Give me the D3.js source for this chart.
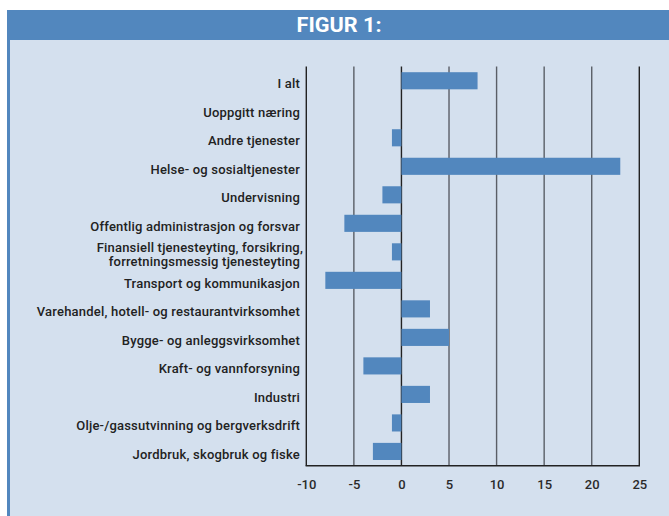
<!DOCTYPE html>
<html><head><meta charset="utf-8">
<script src="https://cdn.jsdelivr.net/npm/d3@7"></script>
<style>
html,body{margin:0;padding:0;background:#fff;}
svg{display:block;}
</style></head>
<body>
<svg id="chart" width="669" height="516"></svg>
<script>
const title = "FIGUR 1:";
const categories = [
  "I alt",
  "Uoppgitt næring",
  "Andre tjenester",
  "Helse- og sosialtjenester",
  "Undervisning",
  "Offentlig administrasjon og forsvar",
  "Finansiell tjenesteyting, forsikring,|forretningsmessig tjenesteyting",
  "Transport og kommunikasjon",
  "Varehandel, hotell- og restaurantvirksomhet",
  "Bygge- og anleggsvirksomhet",
  "Kraft- og vannforsyning",
  "Industri",
  "Olje-/gassutvinning og bergverksdrift",
  "Jordbruk, skogbruk og fiske"
];
const values = [8, 0, -1, 23, -2, -6, -1, -8, 3, 5, -4, 3, -1, -3];
const ticks = [-10, -5, 0, 5, 10, 15, 20, 25];

const svg = d3.select("#chart");
const W = 669, H = 516;
const blue = "#5287be", bg = "#d4e0ee";

// background
svg.append("rect").attr("x", 7).attr("y", 10).attr("width", W - 7).attr("height", H - 10).attr("fill", bg);
svg.append("rect").attr("x", 7).attr("y", 39).attr("width", 3).attr("height", H - 39).attr("fill", blue);
svg.append("rect").attr("x", 7).attr("y", 10).attr("width", W - 7).attr("height", 30).attr("fill", blue);
svg.append("text").attr("x", 339).attr("y", 32).attr("text-anchor", "middle")
  .attr("font-family", "Roboto, sans-serif").attr("font-weight", 700).attr("font-size", 20)
  .attr("fill", "#fff").attr("textLength", 85).attr("lengthAdjust", "spacingAndGlyphs").text(title);

const x = d3.scaleLinear().domain([-10, 25]).range([306.3, 639.3]);
const y = d3.scaleBand().domain(categories).range([66.5, 465.7]).paddingInner(0.4).paddingOuter(0.2);

const g = svg.append("g");
// gridlines
g.selectAll("line.grid").data(ticks).join("line")
  .attr("x1", d => x(d)).attr("x2", d => x(d))
  .attr("y1", 66.5).attr("y2", 465.7)
  .attr("stroke", d => (d === -10 || d === 25 || d === 0) ? "#222" : "#5a5e66")
  .attr("stroke-width", 1.4);

// bars
g.selectAll("rect.bar").data(categories).join("rect")
  .attr("x", (d, i) => x(Math.min(0, values[i])))
  .attr("width", (d, i) => Math.abs(x(values[i]) - x(0)))
  .attr("y", d => y(d)).attr("height", y.bandwidth())
  .attr("fill", blue);

// bottom axis line
g.append("line").attr("x1", x(-10) - 0.7).attr("x2", x(25) + 0.7).attr("y1", 465.7).attr("y2", 465.7)
  .attr("stroke", "#222").attr("stroke-width", 1.4);

// tick labels
const xAxis = d3.axisBottom(x).tickValues(ticks).tickSize(0).tickPadding(0).tickFormat(d3.format("d"));
const ax = svg.append("g").attr("transform", "translate(0,465.7)").call(xAxis);
ax.select(".domain").remove();
ax.selectAll("text").attr("font-family", "Roboto, sans-serif").attr("font-weight", 500)
  .attr("font-size", 13).attr("fill", "#2a2a2a").attr("dy", null).attr("y", 23)
  .text(d => d < 0 ? "-" + Math.abs(d) : d);

// category labels
const lab = svg.append("g").attr("font-family", "Roboto, sans-serif").attr("font-weight", 500)
  .attr("font-size", 13).attr("letter-spacing", 0.2).attr("fill", "#222").attr("text-anchor", "end");
categories.forEach(c => {
  const lines = c.split("|");
  const cy = y(c) + y.bandwidth() / 2;
  const t = lab.append("text").attr("x", 300).attr("y", cy + 7.5 - (lines.length - 1) * 7);
  lines.forEach((l, j) => {
    t.append("tspan").attr("x", j === 0 && lines.length > 1 ? 303 : 300).attr("dy", j === 0 ? 0 : 14).text(l);
  });
});
</script>
</body></html>
